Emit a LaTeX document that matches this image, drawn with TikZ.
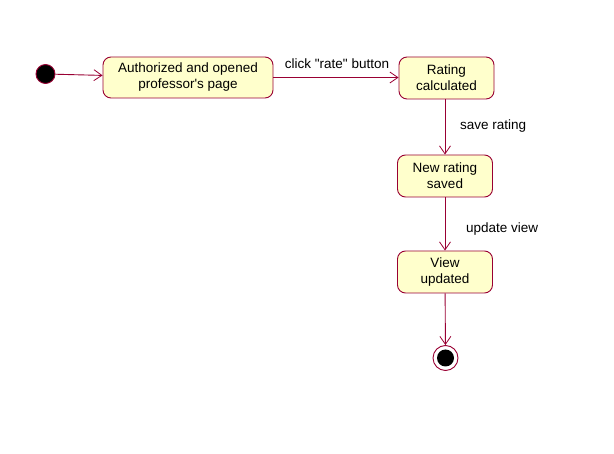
\documentclass[tikz,border=0pt]{standalone}
\usepackage{fontspec}
\setmainfont{Liberation Sans}[Ligatures=TeXOff]
\usetikzlibrary{arrows.meta}
\definecolor{umlred}{HTML}{990033}
\definecolor{umlfill}{HTML}{FFFFCC}
\tikzset{
  statebox/.style={draw=umlred, fill=umlfill, rounded corners=8pt, line width=0.9pt,
    align=center, inner sep=0pt, font=\fontsize{13.5}{16}\selectfont},
  conn/.style={draw=umlred, line width=0.9pt, -{Straight Barb[length=8pt,width=11pt,line width=0.8pt]}},
  lbl/.style={font=\fontsize{13.5}{16}\selectfont, inner sep=0pt}
}
\begin{document}
\begin{tikzpicture}[x=1pt,y=-1pt]
\useasboundingbox (0,0) rectangle (614,454);
\node[circle, draw=umlred, fill=black, line width=0.9pt, minimum size=19pt, inner sep=0pt] (init) at (45.5,74) {};
\node[statebox, minimum width=170pt, minimum height=41pt] (auth) at (188,77.5) {Authorized and opened\\professor's page};
\node[statebox, minimum width=95pt, minimum height=42pt] (calc) at (446.5,78) {Rating\\calculated};
\node[statebox, minimum width=95pt, minimum height=42pt] (saved) at (445,176) {New rating\\saved};
\node[statebox, minimum width=95pt, minimum height=42pt] (view) at (445,272) {View\\updated};
\node[circle, draw=umlred, fill=white, line width=0.9pt, minimum size=25pt, inner sep=0pt] (final) at (445.5,358) {};
\node[circle, fill=black, minimum size=17pt, inner sep=0pt] (finalin) at (445.5,358) {};
\draw[conn] (init) -- (auth);
\draw[conn] (auth.east) -- (calc.west |- auth.east);
\draw[conn] (calc.south -| saved.north) -- (saved.north);
\draw[conn] (saved) -- (view);
\draw[conn] (view) -- (final);
\node[lbl] (l1) at (337,64) {click "rate" button};
\node[lbl, anchor=west] (l2) at (460,126) {save rating};
\node[lbl, anchor=west] (l3) at (466,229.5) {update view};
\end{tikzpicture}
\end{document}
